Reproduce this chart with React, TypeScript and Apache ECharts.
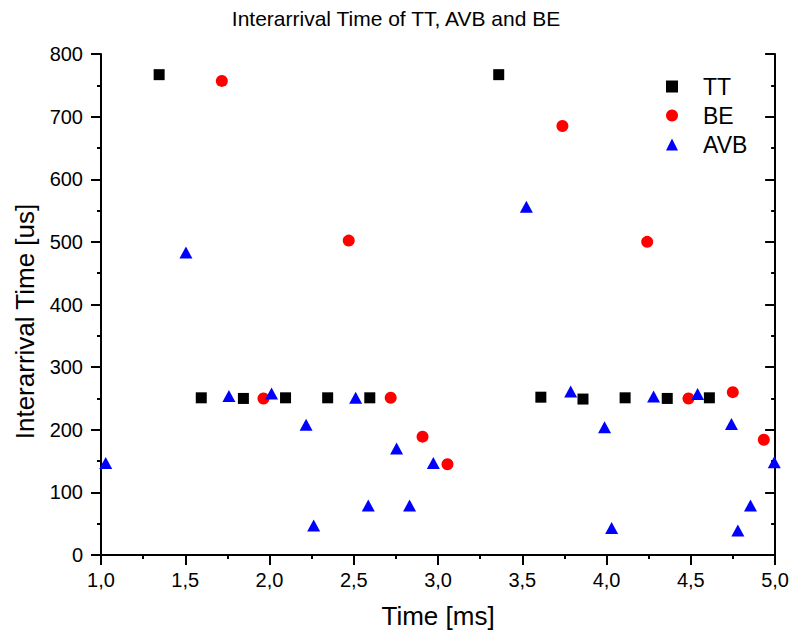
import React, { useEffect, useRef } from "react";
import * as echarts from "echarts";

const ttX = [1.345, 1.595, 1.845, 2.095, 2.345, 2.595, 3.36, 3.61, 3.86, 4.11, 4.36, 4.61];
const ttY = [767, 251, 250, 251, 251, 251, 767, 252, 249, 251, 250, 251];

const beX = [1.717, 1.964, 2.47, 2.719, 2.908, 3.056, 3.738, 4.241, 4.486, 4.749, 4.933];
const beY = [757, 250, 502, 251, 189, 145, 685, 500, 250, 260, 184];

const avbX = [1.028, 1.504, 1.759, 2.012, 2.217, 2.262, 2.511, 2.586, 2.754, 2.831, 2.972, 3.524, 3.787, 3.988, 4.03, 4.279, 4.54, 4.741, 4.779, 4.854, 4.995];
const avbY = [147, 483, 254, 258, 208, 47, 251, 79, 170, 79, 147, 556, 261, 204, 43, 253, 257, 209, 39, 79, 148];

const seriesNames = ["TT", "BE", "AVB"];
const titleText = "Interarrival Time of TT, AVB and BE";
const xName = "Time [ms]";
const yName = "Interarrival Time [us]";

const FONT = "'Liberation Sans', Arial, sans-serif";

const zip = (xs: number[], ys: number[]) => xs.map((x, i) => [x, ys[i]]);

export default function App() {
  const ref = useRef<HTMLDivElement>(null);
  useEffect(() => {
    if (!ref.current) return;
    const chart = echarts.init(ref.current, undefined, { renderer: "svg" });
    const axisLine = { show: true, lineStyle: { color: "#000", width: 2 } };
    const tickOut = { show: true, inside: false, length: 10, lineStyle: { color: "#000", width: 2 } };
    const tickIn = { show: true, inside: true, length: 10, lineStyle: { color: "#000", width: 2 } };
    const minor = { show: true, splitNumber: 2, length: 4, lineStyle: { color: "#000", width: 2 } };
    const xBase = { type: "value", min: 1, max: 5, interval: 0.5, splitLine: { show: false } };
    const yBase = { type: "value", min: 0, max: 800, interval: 100, splitLine: { show: false } };
    chart.setOption({
      animation: false,
      backgroundColor: "#fff",
      title: {
        text: titleText,
        left: "center",
        top: 3,
        textStyle: { fontFamily: FONT, fontSize: 21, fontWeight: "normal", color: "#000" },
      },
      legend: {
        data: seriesNames,
        orient: "vertical",
        left: 661,
        top: 70,
        itemWidth: 12,
        itemHeight: 12,
        itemGap: 6,
        textStyle: { fontFamily: FONT, fontSize: 23, color: "#000", padding: [0, 0, 0, 20] },
      },
      grid: { left: 101, right: 16, top: 54, bottom: 78 },
      xAxis: [
        {
          ...xBase,
          position: "bottom",
          name: xName,
          nameLocation: "middle",
          nameGap: 48,
          nameTextStyle: { fontFamily: FONT, fontSize: 26, color: "#000" },
          axisLine,
          axisTick: tickOut,
          minorTick: minor,
          axisLabel: {
            fontFamily: FONT,
            fontSize: 20,
            color: "#000",
            margin: 15,
            showMinLabel: true,
            showMaxLabel: true,
            formatter: (v: number) => v.toFixed(1).replace(".", ","),
          },
        },
        {
          ...xBase,
          position: "top",
          axisLine,
          axisTick: tickIn,
          minorTick: minor,
          axisLabel: { show: false },
        },
      ],
      yAxis: [
        {
          ...yBase,
          position: "left",
          name: yName,
          nameLocation: "middle",
          nameGap: 63,
          nameTextStyle: { fontFamily: FONT, fontSize: 26, color: "#000", padding: [0, 34, 0, 0] },
          axisLine,
          axisTick: tickOut,
          minorTick: minor,
          axisLabel: {
            fontFamily: FONT,
            fontSize: 20,
            color: "#000",
            margin: 18,
            showMinLabel: true,
            showMaxLabel: true,
          },
        },
        {
          ...yBase,
          position: "right",
          axisLine,
          axisTick: tickIn,
          minorTick: minor,
          axisLabel: { show: false },
        },
      ],
      series: [
        {
          name: seriesNames[0],
          type: "scatter",
          symbol: "rect",
          symbolSize: 11,
          itemStyle: { color: "#000000", opacity: 1 },
          data: zip(ttX, ttY),
          xAxisIndex: 0,
          yAxisIndex: 0,
          z: 3,
        },
        {
          name: seriesNames[1],
          type: "scatter",
          symbol: "circle",
          symbolSize: 12,
          itemStyle: { color: "#ff0000", opacity: 1 },
          data: zip(beX, beY),
          xAxisIndex: 0,
          yAxisIndex: 0,
          z: 2,
        },
        {
          name: seriesNames[2],
          type: "scatter",
          symbol: "triangle",
          symbolSize: [13, 12],
          itemStyle: { color: "#0000ff", opacity: 1 },
          data: zip(avbX, avbY),
          xAxisIndex: 0,
          yAxisIndex: 0,
          z: 4,
        },
      ],
    });
    return () => chart.dispose();
  }, []);
  return (
    <div
      ref={ref}
      style={{ position: "fixed", left: 0, top: 0, width: 792, height: 634, background: "#fff" }}
    />
  );
}
